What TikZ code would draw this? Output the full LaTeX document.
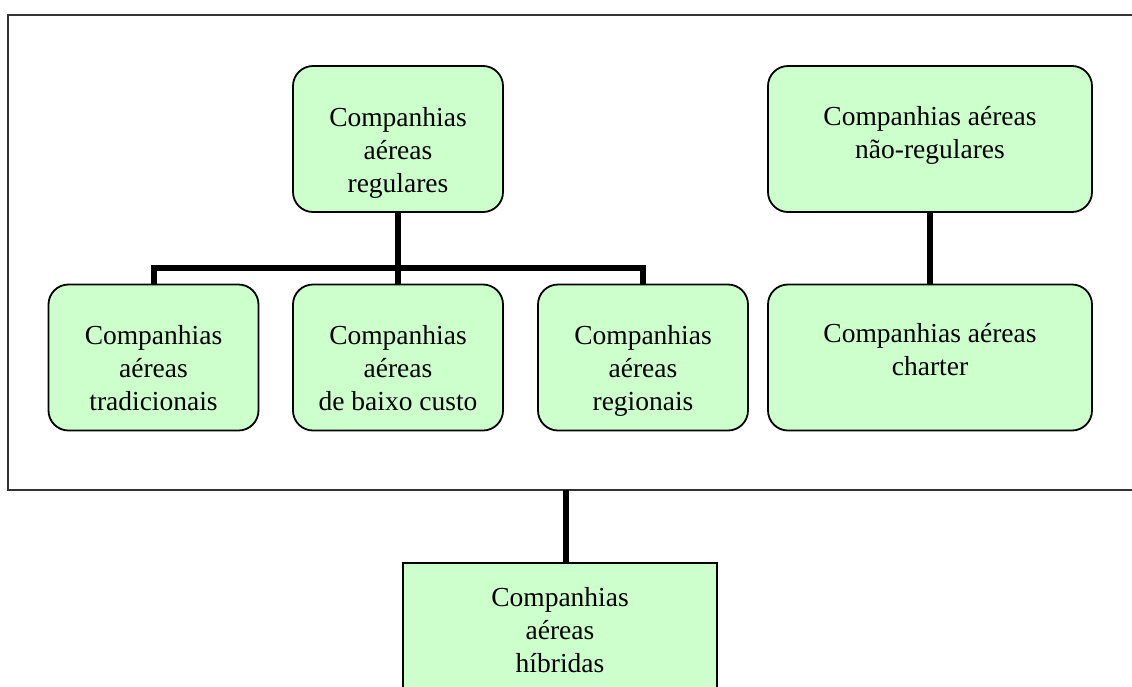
\documentclass[tikz,border=0pt]{standalone}
\usepackage{fontspec}
\setmainfont{Liberation Serif}
\definecolor{boxgreen}{HTML}{CCFFCC}
\definecolor{framegray}{HTML}{333333}
\begin{document}
\begin{tikzpicture}[x=1pt,y=-1pt,
  orgbox/.style={draw=black, line width=1.8pt, fill=boxgreen, rounded corners=20pt,
    inner sep=0pt, minimum width=#1, minimum height=146pt},
  orgbox/.default=210pt,
  plainbox/.style={draw=black, line width=2pt, fill=boxgreen,
    inner sep=0pt, minimum width=314pt, minimum height=130pt},
  boxtext/.style={anchor=north, align=center, inner sep=0pt,
    font=\fontsize{27.5}{33}\selectfont},
  conn/.style={draw=black, line width=6pt},
  frameline/.style={draw=framegray, line width=2pt}]
\useasboundingbox (0,0) rectangle (1132,686);

% outer frame, open to the right
\draw[frameline] (1140,15) -- (8,15) -- (8,490) -- (1140,490);
\coordinate (tap) at (566,490);

% top row
\node[orgbox] (reg) at (398,139) {};
\node[orgbox=324pt] (nreg) at (930,139) {};

% bottom row
\node[orgbox] (trad) at (153.5,357.5) {};
\node[orgbox] (baixo) at (398,357.5) {};
\node[orgbox] (regn) at (643,357.5) {};
\node[orgbox=324pt] (charter) at (930,357.5) {};

% hybrid carriers, below the frame
\node[plainbox] (hib) at (560,628) {};

% connectors
\coordinate (bus) at (398,268);
\draw[conn] (reg.south) -- (baixo.north);
\draw[conn] (trad.north) |- (bus) -| (regn.north);
\draw[conn] (nreg.south) -- (charter.north);
\draw[conn] (tap) -- (tap |- hib.north);

% labels, hung from the top edge of each box
\node[boxtext] (reg-t) at ([yshift=-42pt]reg.north) {Companhias\\aéreas\\regulares};
\node[boxtext] (nreg-t) at ([yshift=-41pt]nreg.north) {Companhias aéreas\\não-regulares};
\node[boxtext] (trad-t) at ([yshift=-42pt]trad.north) {Companhias\\aéreas\\tradicionais};
\node[boxtext] (baixo-t) at ([yshift=-42pt]baixo.north) {Companhias\\aéreas\\de baixo custo};
\node[boxtext] (regn-t) at ([yshift=-42pt]regn.north) {Companhias\\aéreas\\regionais};
\node[boxtext] (charter-t) at ([yshift=-40pt]charter.north) {Companhias aéreas\\charter};
\node[boxtext] (hib-t) at ([yshift=-25pt]hib.north) {Companhias\\aéreas\\híbridas};
\end{tikzpicture}
\end{document}
